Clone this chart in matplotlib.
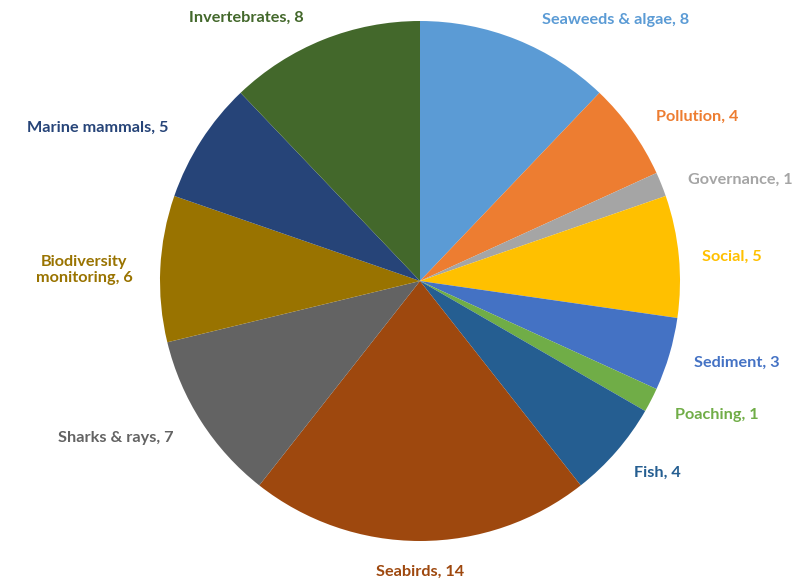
import matplotlib.pyplot as plt

# data (clockwise from 12 o'clock)
categories = ["Seaweeds & algae", "Pollution", "Governance", "Social", "Sediment",
              "Poaching", "Fish", "Seabirds", "Sharks & rays",
              "Biodiversity\nmonitoring", "Marine mammals", "Invertebrates"]
counts = [8, 4, 1, 5, 3, 1, 4, 14, 7, 6, 5, 8]

colors = ["#5B9BD5", "#ED7D31", "#A5A5A5", "#FFC000", "#4472C4", "#70AD47",
          "#255E91", "#9E480E", "#636363", "#997300", "#264478", "#43682B"]

# label anchor positions, in units of the pie radius (layout only)
label_xy = [(0.754, 1.004), (1.065, 0.631), (1.231, 0.388), (1.20, 0.092),
            (1.219, -0.315), (1.142, -0.515), (0.912, -0.738), (0.0, -1.119),
            (-1.169, -0.604), (-1.292, 0.042), (-1.238, 0.588), (-0.669, 1.012)]

fig = plt.figure(figsize=(8.05, 5.83), dpi=100)
ax = fig.add_axes([0, 0, 1, 1])

wedges, _ = ax.pie(counts, colors=colors, startangle=90, counterclock=False,
                   radius=1.0, center=(0, 0),
                   wedgeprops=dict(linewidth=0))

for name, n, c, (lx, ly) in zip(categories, counts, colors, label_xy):
    ax.text(lx, ly, f"{name}, {n}", color=c, fontsize=11.7, fontweight="bold",
            family="Lato", ha="center", va="center", linespacing=1.25)

# centre of pie at (420, 281) px, radius 260 px
r_px = 260
ax.set_xlim(-420 / r_px, (805 - 420) / r_px)
ax.set_ylim(-(583 - 281) / r_px, 281 / r_px)
ax.set_aspect("equal")
ax.axis("off")

fig.savefig("out.png", dpi=100, facecolor="white")
